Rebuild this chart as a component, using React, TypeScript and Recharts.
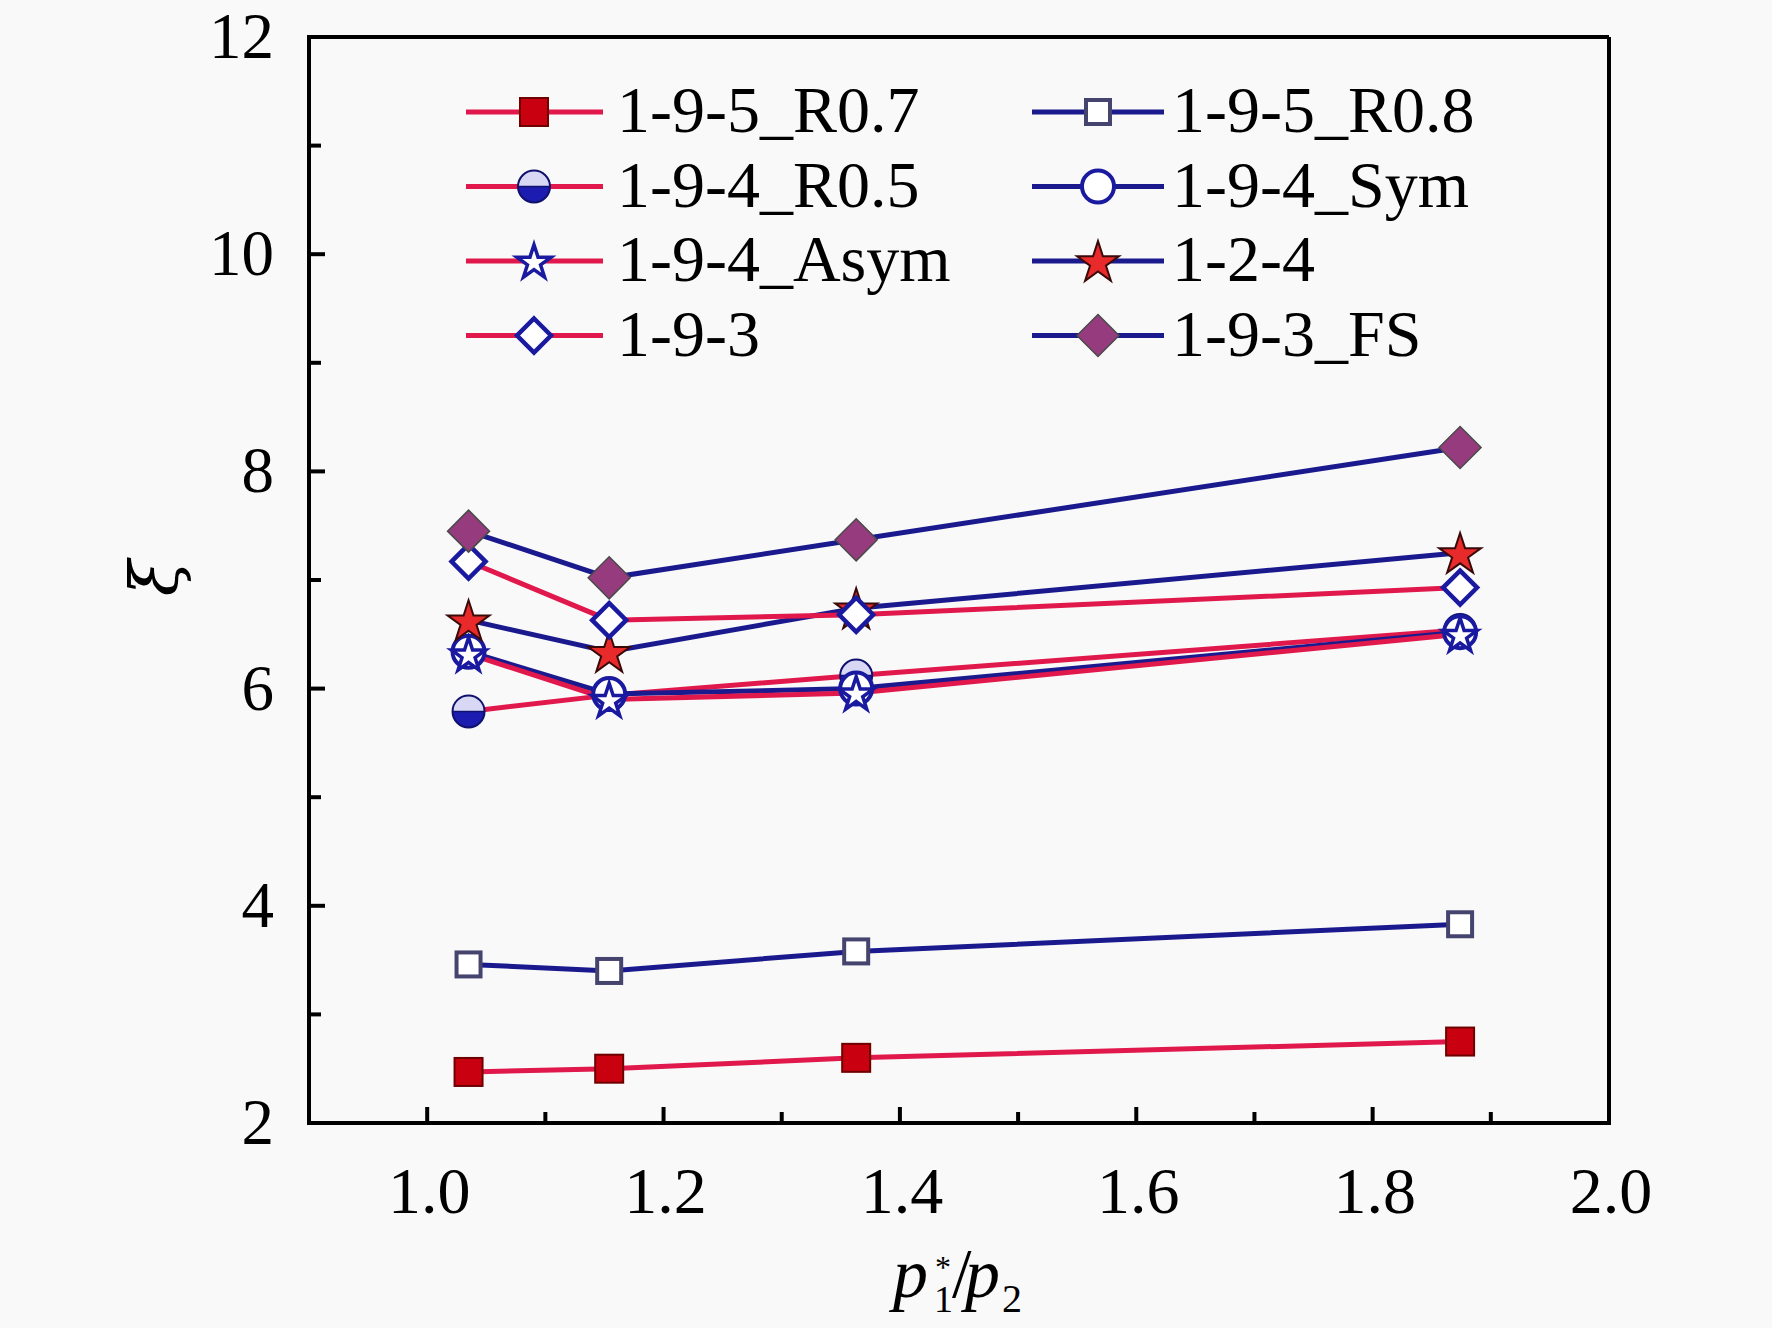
import React from 'react';
import { LineChart, Line, XAxis, YAxis, ReferenceLine } from 'recharts';

const W = 1772;
const H = 1328;
const FONT = '"Liberation Serif", "Times New Roman", Times, serif';
const RED = '#e0184c';
const BLUE = '#1a1a8e';

// ---------- data ----------
const xValues = [1.035, 1.154, 1.363, 1.874];
const r07 = [2.47, 2.5, 2.6, 2.75];
const r08 = [3.46, 3.4, 3.58, 3.83];
const r05 = [5.79, 5.94, 6.12, 6.54];
const sym = [6.34, 5.95, 6.0, 6.52];
const asym = [6.32, 5.9, 5.96, 6.5];
const s124 = [6.63, 6.34, 6.74, 7.25];
const s193 = [7.17, 6.63, 6.68, 6.93];
const s193fs = [7.45, 7.02, 7.37, 8.22];

const seriesNames = [
  '1-9-5_R0.7',
  '1-9-5_R0.8',
  '1-9-4_R0.5',
  '1-9-4_Sym',
  '1-9-4_Asym',
  '1-2-4',
  '1-9-3',
  '1-9-3_FS',
];

const xMajorTicks = [1.0, 1.2, 1.4, 1.6, 1.8, 2.0];
const xMinorTicks = [1.1, 1.3, 1.5, 1.7, 1.9];
const yMajorTicks = [2, 4, 6, 8, 10, 12];
const yMinorTicks = [3, 5, 7, 9, 11];

// ---------- styling ----------
type MarkerType = 'sqFill' | 'sqOpen' | 'half' | 'circOpen' | 'starOpen' | 'starRed' | 'diaOpen' | 'diaFill';

const seriesValues = [r07, r08, r05, sym, asym, s124, s193, s193fs];
const seriesKeys = ['r07', 'r08', 'r05', 'sym', 'asym', 's124', 's193', 's193fs'];
const seriesColors = [RED, BLUE, RED, BLUE, RED, BLUE, RED, BLUE];
const seriesMarkers: MarkerType[] = ['sqFill', 'sqOpen', 'half', 'circOpen', 'starOpen', 'starRed', 'diaOpen', 'diaFill'];

const rows = xValues.map((x, i) => {
  const row: Record<string, number> = { x };
  seriesKeys.forEach((k, s) => {
    row[k] = seriesValues[s][i];
  });
  return row;
});

const xTicks = [...xMajorTicks, ...xMinorTicks].sort((a, b) => a - b);
const yTicks = [...yMajorTicks, ...yMinorTicks].sort((a, b) => a - b);

function starPath(cx: number, cy: number, R: number, ratio = 0.382) {
  const c = cy + 0.095 * R;
  let d = '';
  for (let i = 0; i < 10; i++) {
    const rr = i % 2 ? R * ratio : R;
    const a = -Math.PI / 2 + (i * Math.PI) / 5;
    d += (i ? 'L' : 'M') + (cx + rr * Math.cos(a)).toFixed(2) + ' ' + (c + rr * Math.sin(a)).toFixed(2) + ' ';
  }
  return d + 'Z';
}

function diamondPath(cx: number, cy: number, h: number) {
  return `M ${cx} ${cy - h} L ${cx + h} ${cy} L ${cx} ${cy + h} L ${cx - h} ${cy} Z`;
}

function Marker({ type, cx, cy }: { type: MarkerType; cx: number; cy: number }) {
  if (cx == null || cy == null) return null;
  switch (type) {
    case 'sqFill':
      return <rect x={cx - 14} y={cy - 14} width={28} height={28} fill="#c8000f" stroke="#6e0000" strokeWidth={2} />;
    case 'sqOpen':
      return <rect x={cx - 12} y={cy - 12} width={24} height={24} fill="#ffffff" stroke="#44446e" strokeWidth={4} />;
    case 'half': {
      const r = 16;
      return (
        <g>
          <path d={`M ${cx - r} ${cy} A ${r} ${r} 0 0 1 ${cx + r} ${cy} Z`} fill="#d8d8f4" />
          <path d={`M ${cx - r} ${cy} A ${r} ${r} 0 0 0 ${cx + r} ${cy} Z`} fill="#1c1cb0" />
          <line x1={cx - r} x2={cx + r} y1={cy} y2={cy} stroke="#10106e" strokeWidth={1.5} />
          <circle cx={cx} cy={cy} r={r} fill="none" stroke="#10106e" strokeWidth={2} />
        </g>
      );
    }
    case 'circOpen':
      return <circle cx={cx} cy={cy} r={16} fill="#ffffff" stroke="#1a1aa0" strokeWidth={4} />;
    case 'starOpen':
      return <path d={starPath(cx, cy, 18)} fill="#ffffff" stroke="#1a1aa0" strokeWidth={3.5} strokeLinejoin="miter" />;
    case 'starRed':
      return <path d={starPath(cx, cy, 22)} fill="#e82a2a" stroke="#3a0a0a" strokeWidth={2} />;
    case 'diaOpen':
      return <path d={diamondPath(cx, cy, 17)} fill="#ffffff" stroke="#1a1aa0" strokeWidth={4.5} />;
    case 'diaFill':
      return <path d={diamondPath(cx, cy, 21)} fill="#963c7e" stroke="#4a4a4a" strokeWidth={1.5} />;
    default:
      return null;
  }
}

const isMajor = (v: number, majors: number[]) => majors.some((m) => Math.abs(m - v) < 1e-6);

const XTick = (props: any) => {
  const { x, y, payload } = props;
  const v = payload.value as number;
  const major = isMajor(v, xMajorTicks);
  return (
    <g>
      <line x1={x} x2={x} y1={y} y2={y - (major ? 16 : 11)} stroke="#000" strokeWidth={4} />
      {major && (
        <text x={x + 2} y={y + 90} textAnchor="middle" fontSize={66} fontFamily={FONT} fill="#000">
          {v.toFixed(1)}
        </text>
      )}
    </g>
  );
};

const YTick = (props: any) => {
  const { x, y, payload } = props;
  const v = payload.value as number;
  const major = isMajor(v, yMajorTicks);
  return (
    <g>
      <line x1={x} x2={x + (major ? 16 : 12)} y1={y} y2={y} stroke="#000" strokeWidth={4} />
      {major && (
        <text x={x - 35} y={y + 21} textAnchor="end" fontSize={65} fontFamily={FONT} fill="#000">
          {String(v)}
        </text>
      )}
    </g>
  );
};

const LEG_ROW0 = 112;
const LEG_DY = 74.5;
const legCols = [
  { x0: 466, x1: 603, mx: 534, tx: 617 },
  { x0: 1032, x1: 1164, mx: 1098, tx: 1172 },
];

function LegendOverlay() {
  return (
    <svg width={W} height={H} style={{ position: 'absolute', left: 0, top: 0, pointerEvents: 'none' }}>
      {seriesNames.map((name, i) => {
        const col = legCols[i % 2];
        const y = LEG_ROW0 + Math.floor(i / 2) * LEG_DY;
        return (
          <g key={name}>
            <line x1={col.x0} x2={col.x1} y1={y} y2={y} stroke={seriesColors[i]} strokeWidth={5} />
            <Marker type={seriesMarkers[i]} cx={col.mx} cy={y} />
            <text x={col.tx} y={y + 20} fontSize={66} fontFamily={FONT} fill="#000">
              {name}
            </text>
          </g>
        );
      })}
      {/* y axis title */}
      <text
        transform="translate(177,578) rotate(-90)"
        textAnchor="middle"
        fontSize={66}
        fontStyle="italic"
        fontFamily='"DejaVu Serif", serif'
        fill="#000"
      >
        ξ
      </text>
      {/* x axis title */}
      <text fontFamily={FONT} fill="#000">
        <tspan x={893} y={1297} fontSize={70} fontStyle="italic">p</tspan>
        <tspan x={934} y={1312} fontSize={38}>1</tspan>
        <tspan x={935} y={1278} fontSize={32}>*</tspan>
        <tspan x={952} y={1297} fontSize={70}>/</tspan>
        <tspan x={965} y={1297} fontSize={70} fontStyle="italic">p</tspan>
        <tspan x={1002} y={1312} fontSize={40}>2</tspan>
      </text>
    </svg>
  );
}

export default function App() {
  const axisLine = { stroke: '#000', strokeWidth: 4, strokeLinecap: 'square' as const };
  return (
    <div style={{ position: 'absolute', left: 0, top: 0, width: W, height: H, background: '#f9f9f9' }}>
      <LineChart
        width={W}
        height={H}
        data={rows}
        margin={{ top: 37, right: 163, bottom: 175, left: 249 }}
      >
        <XAxis
          dataKey="x"
          type="number"
          domain={[0.9, 2.0]}
          allowDataOverflow
          ticks={xTicks}
          interval={0}
          height={30}
          tickSize={0}
          tickMargin={0}
          tickLine={false}
          axisLine={axisLine}
          tick={<XTick />}
        />
        <YAxis
          type="number"
          domain={[2, 12]}
          allowDataOverflow
          ticks={yTicks}
          interval={0}
          width={60}
          tickSize={0}
          tickMargin={0}
          tickLine={false}
          axisLine={axisLine}
          tick={<YTick />}
        />
        <ReferenceLine y={12} stroke="#000" strokeWidth={4} ifOverflow="visible" />
        <ReferenceLine x={2.0} stroke="#000" strokeWidth={4} ifOverflow="visible" />
        {seriesKeys.map((k, i) => (
          <Line
            key={k}
            dataKey={k}
            name={seriesNames[i]}
            type="linear"
            stroke={seriesColors[i]}
            strokeWidth={5}
            isAnimationActive={false}
            activeDot={false}
            dot={(p: any) => <Marker key={`${k}-${p.index}`} type={seriesMarkers[i]} cx={p.cx} cy={p.cy} />}
          />
        ))}
      </LineChart>
      <LegendOverlay />
    </div>
  );
}
